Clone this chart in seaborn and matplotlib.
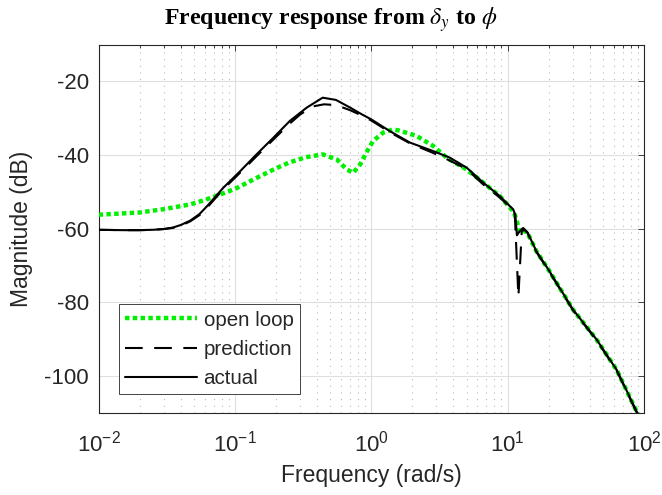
import numpy as np
import pandas as pd
import matplotlib
matplotlib.use("Agg")
import matplotlib.pyplot as plt
import seaborn as sns
from matplotlib.ticker import LogLocator, FixedLocator, NullFormatter

# ---- data ----
f_open = [0.01, 0.02, 0.03, 0.047, 0.06, 0.078, 0.1, 0.144, 0.2, 0.25, 0.33, 0.44,
          0.56, 0.66, 0.738, 0.83, 0.92, 1.03, 1.22, 1.45, 1.63, 2.15, 2.84, 3.57,
          5.0, 6.64, 8.8, 11.0, 11.5, 12.3, 13.0, 14.0, 16.3, 20.0, 30.2, 45.1,
          63.2, 88.5, 100.0]
m_open = [-56.2, -55.6, -54.7, -53.4, -52.2, -50.7, -49.2, -46.2, -43.6, -42.0, -40.6, -39.8,
          -41.2, -43.9, -44.8, -42.5, -39.3, -36.2, -33.9, -33.0, -33.4, -34.8, -37.5, -40.7,
          -43.9, -47.5, -51.2, -55.3, -57.0, -61.1, -60.5, -61.2, -66.2, -71.2, -82.0, -90.2,
          -98.4, -109.7, -112.8]

f_pred = [0.01, 0.015, 0.02, 0.025, 0.03, 0.035, 0.04, 0.047, 0.055, 0.062, 0.07, 0.082,
          0.109, 0.144, 0.191, 0.253, 0.3, 0.37, 0.45, 0.55, 0.7, 0.87, 1.0, 1.37, 1.92,
          2.84, 3.77, 5.0, 6.64, 8.8, 11.0, 11.3, 12.0, 12.7, 13.3, 14.0, 16.3, 20.0,
          30.2, 45.1, 63.2, 88.5, 100.0]
m_pred = [-60.3, -60.4, -60.4, -60.3, -60.1, -59.8, -59.2, -58.0, -56.3, -54.4, -52.2, -49.3,
          -44.8, -40.3, -35.8, -31.4, -29.0, -26.8, -26.2, -26.4, -27.8, -29.4, -30.6, -33.8,
          -36.8, -39.4, -41.5, -43.8, -48.0, -51.6, -55.0, -56.2, -78.5, -60.7, -60.3, -61.2,
          -66.4, -71.4, -82.2, -90.4, -98.6, -110.0, -113.2]

f_act = [0.01, 0.015, 0.02, 0.025, 0.03, 0.035, 0.04, 0.047, 0.055, 0.062, 0.07, 0.082,
         0.109, 0.144, 0.191, 0.253, 0.336, 0.44, 0.55, 0.7, 0.85, 1.0, 1.37, 1.92, 2.84,
         3.77, 5.0, 6.64, 8.8, 11.0, 11.4, 11.7, 12.2, 13.0, 14.0, 16.3, 20.0, 30.2, 45.1,
         63.2, 88.5, 100.0]
m_act = [-60.3, -60.4, -60.4, -60.3, -60.1, -59.7, -59.0, -57.8, -56.0, -54.0, -51.8, -48.9,
         -44.4, -39.8, -35.3, -30.7, -27.1, -24.4, -25.0, -27.1, -28.9, -30.3, -33.5, -36.6,
         -38.9, -40.7, -43.4, -47.5, -51.2, -54.8, -56.3, -61.8, -60.8, -59.8, -61.0, -66.2,
         -71.2, -82.0, -90.2, -98.4, -109.7, -112.8]

series_names = ["open loop", "prediction", "actual"]
x_ticks = [1e-2, 1e-1, 1e0, 1e1, 1e2]
x_tick_labels = [r"$\mathdefault{10^{-2}}$", r"$\mathdefault{10^{-1}}$", r"$\mathdefault{10^{0}}$",
                 r"$\mathdefault{10^{1}}$", r"$\mathdefault{10^{2}}$"]
y_ticks = [-100, -80, -60, -40, -20]

# ---- style ----
sns.set_theme(style="white")
plt.rcParams["font.family"] = ["Liberation Sans", "DejaVu Sans"]
plt.rcParams["axes.unicode_minus"] = False
plt.rcParams["mathtext.fontset"] = "stix"

AX_C = "#262626"
fig = plt.figure(figsize=(6.62, 4.95), dpi=100)
ax = fig.add_axes([0.149, 0.1663, 0.8237, 0.7434])

df_open = pd.DataFrame({"f": f_open, "mag": m_open})
df_pred = pd.DataFrame({"f": f_pred, "mag": m_pred})
df_act = pd.DataFrame({"f": f_act, "mag": m_act})

sns.lineplot(data=df_open, x="f", y="mag", ax=ax, sort=False, estimator=None,
             color="#00f000", lw=3.2, linestyle=(0, (1.0, 0.75)),
             label=series_names[0], zorder=3)
ax.get_lines()[-1].set_dash_capstyle("butt")
sns.lineplot(data=df_pred, x="f", y="mag", ax=ax, sort=False, estimator=None,
             color="black", lw=1.5, linestyle=(0, (8.5, 5.5)),
             label=series_names[1], zorder=4)
sns.lineplot(data=df_act, x="f", y="mag", ax=ax, sort=False, estimator=None,
             color="black", lw=1.5, linestyle="-",
             label=series_names[2], zorder=5)

ax.set_xscale("log")
ax.set_xlim(1e-2, 1e2)
ax.set_ylim(-110, -10)

ax.xaxis.set_major_locator(FixedLocator(x_ticks))
ax.set_xticklabels(x_tick_labels)
ax.xaxis.set_minor_locator(LogLocator(base=10, subs=np.arange(2, 10), numticks=50))
ax.xaxis.set_minor_formatter(NullFormatter())
ax.set_yticks(y_ticks)
ax.set_yticklabels([str(v) for v in y_ticks])

ax.grid(which="major", color="#dfdfdf", lw=0.8, zorder=0)
ax.xaxis.grid(which="minor", color="#b8b8b8", lw=0.8, linestyle=(0, (1, 5)), zorder=0)
ax.set_axisbelow(True)

ax.tick_params(which="both", direction="in", top=True, right=True, colors=AX_C,
               labelcolor=AX_C, labelsize=16, width=0.6)
ax.tick_params(which="major", length=4.5)
ax.tick_params(which="minor", length=2.5)
ax.tick_params(axis="y", pad=7)
ax.tick_params(axis="x", pad=13)
for s in ax.spines.values():
    s.set_color(AX_C)
    s.set_linewidth(0.8)

ax.set_xlabel("Frequency (rad/s)", fontsize=16.5, color=AX_C, labelpad=5)
ax.set_ylabel("Magnitude (dB)", fontsize=16.5, color=AX_C, labelpad=8)
fig.suptitle(r"Frequency response from $\delta_y$ to $\phi$", x=0.5, y=0.99,
             va="top", fontsize=17.2, fontweight="bold", family="Liberation Serif",
             color="black")

leg = ax.legend(loc="lower left", bbox_to_anchor=(0.0378, 0.05), borderaxespad=0,
                fontsize=14.8, frameon=True, fancybox=False, framealpha=1,
                edgecolor=AX_C, handlelength=3.5, handletextpad=0.3,
                labelspacing=0.5, borderpad=0.3)
leg.get_frame().set_linewidth(0.6)
for t in leg.get_texts():
    t.set_color(AX_C)

fig.savefig("out.png", dpi=100)
